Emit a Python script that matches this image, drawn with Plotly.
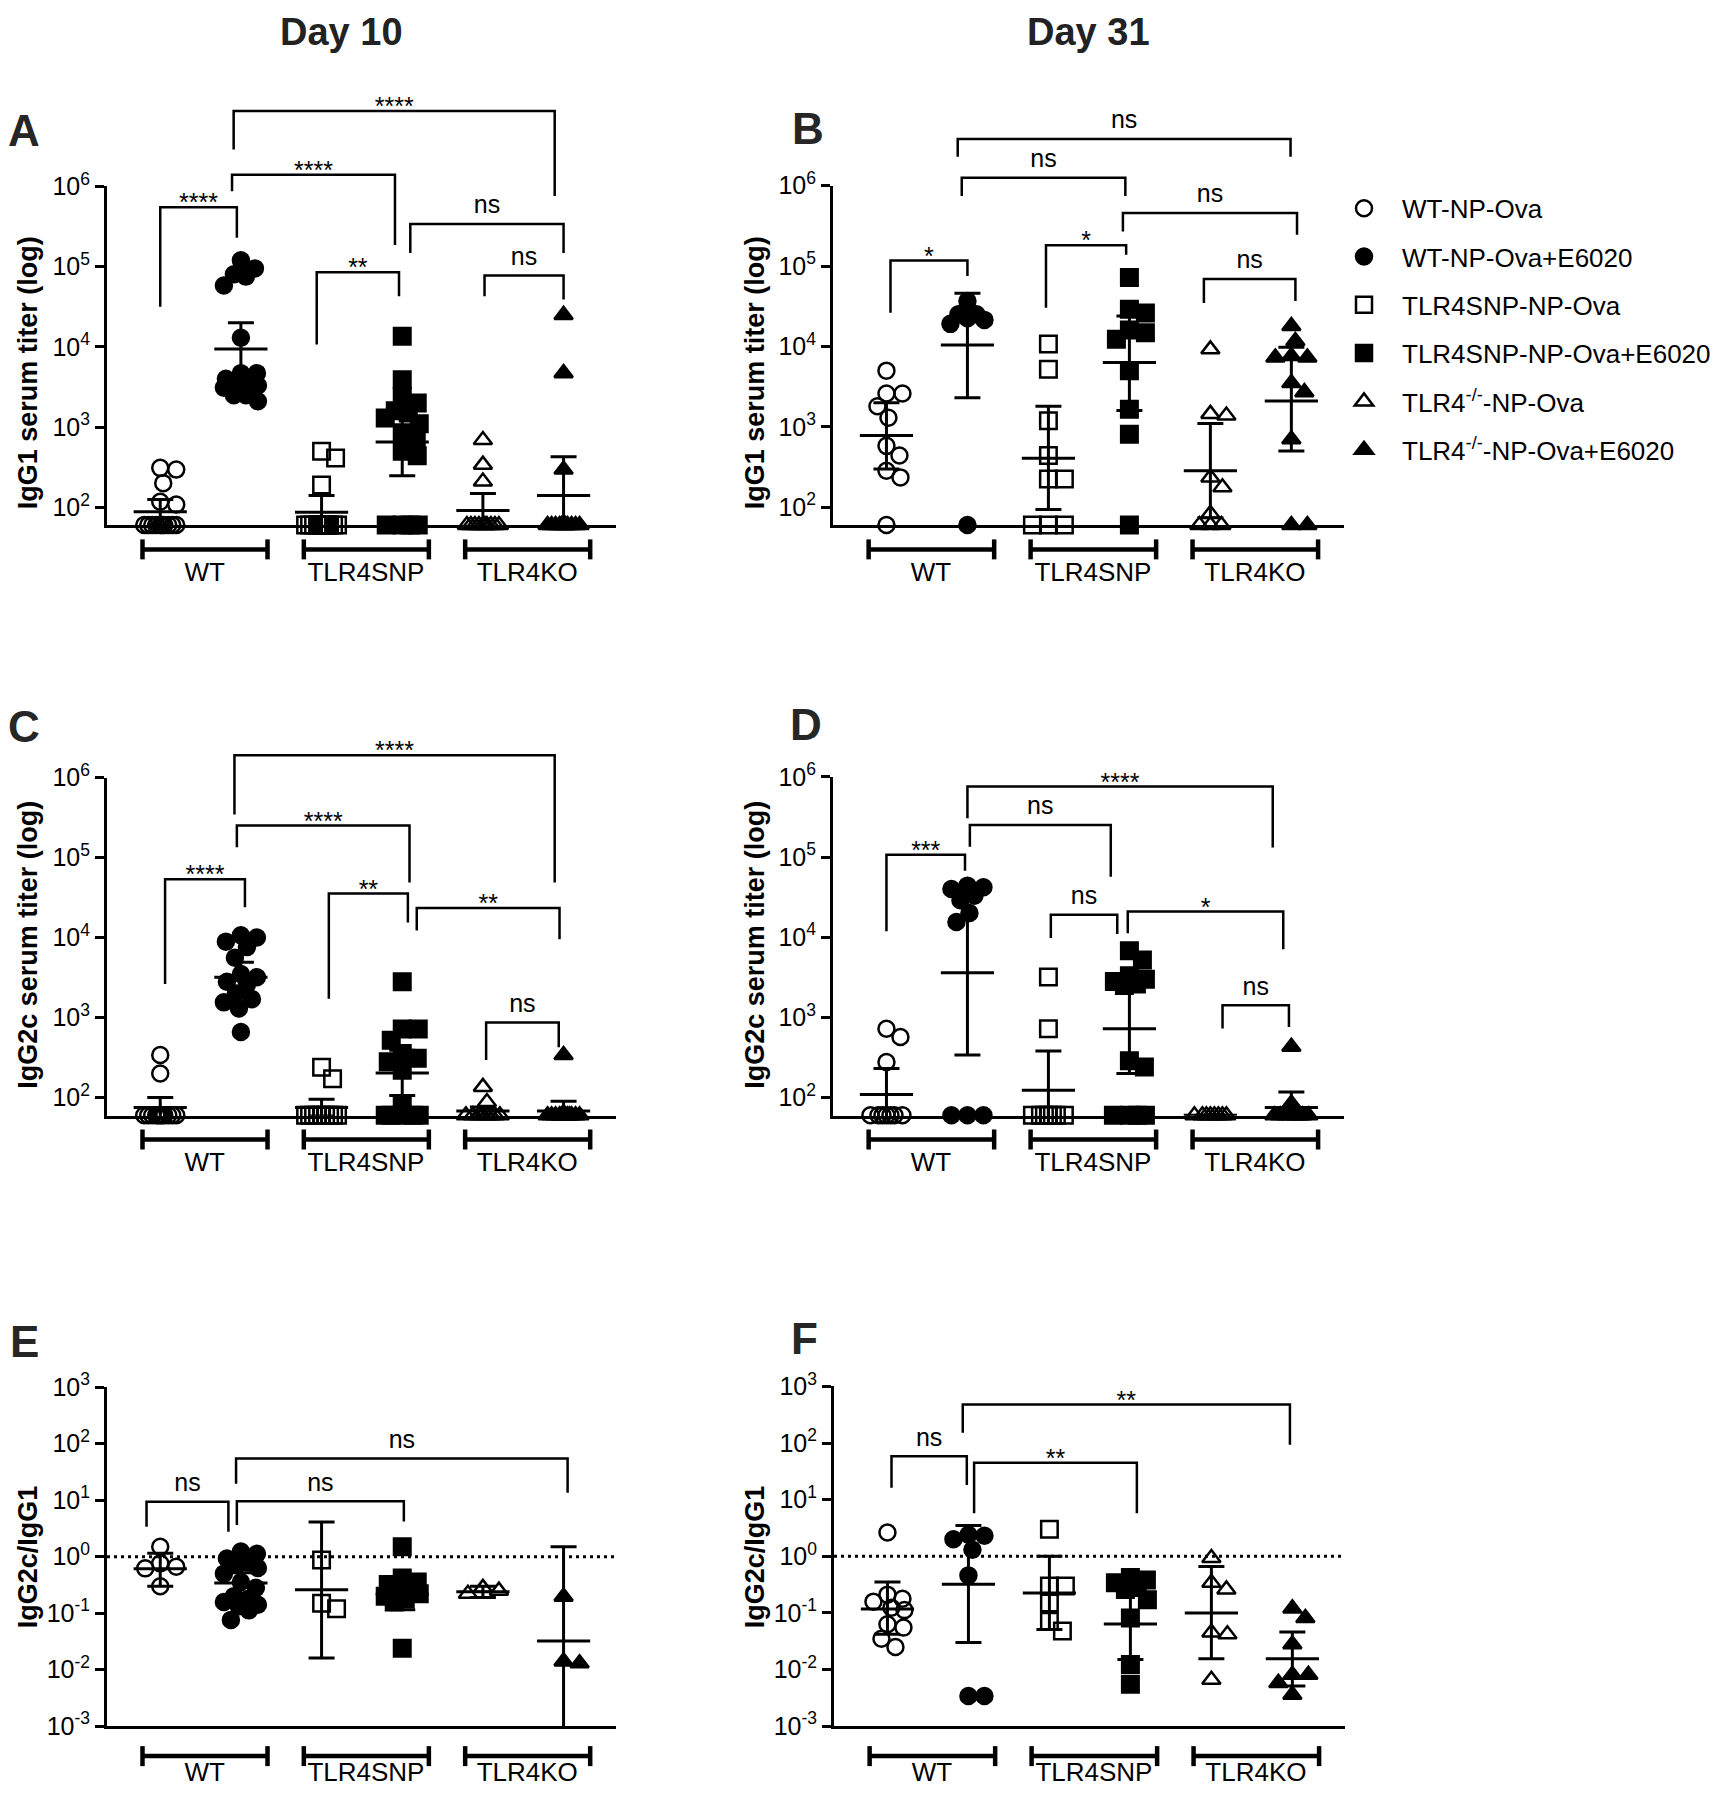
import math
import plotly.graph_objects as go

W, H = 1734, 1800
LOD = 60  # limit of detection (values plotted on the x axis)

categories = ["WT-NP-Ova", "WT-NP-Ova+E6020", "TLR4SNP-NP-Ova", "TLR4SNP-NP-Ova+E6020",
              "TLR4<sup>-/-</sup>-NP-Ova", "TLR4<sup>-/-</sup>-NP-Ova+E6020"]
group_labels = ["WT", "TLR4SNP", "TLR4KO"]
col_titles = ["Day 10", "Day 31"]

# ---------------- Panel A : IgG1, day 10 ----------------
a_wt = [310, 295, 200, 117, 108] + [60] * 10
a_wt_e = [120000, 95000, 80000, 75000, 58000, 13000, 4700, 4700, 4000, 3900, 3500, 3300, 3100, 2500, 2500, 2100]
a_snp = [500, 410, 190] + [60] * 12
a_snp_e = [13500, 3900, 2400, 2000, 1600, 1500, 1300, 1100, 850, 700, 500, 440, 60, 60, 60, 60]
a_ko = [690, 340, 210] + [60] * 10
a_ko_e = [25000, 4700, 295] + [60] * 11
a_mean = [88, 9400, 87, 650, 91, 140]
a_upper = [125, 20000, 140, 1700, 148, 425]
a_lower = [62, 4400, 54, 248, 56, 46]

# ---------------- Panel B : IgG1, day 31 ----------------
b_wt = [5000, 2600, 2600, 1800, 1300, 580, 440, 285, 235, 60]
b_wt_e = [36700, 25100, 25100, 22400, 21400, 19100, 60]
b_snp = [10700, 5200, 1190, 440, 225, 225, 60, 60, 60]
b_snp_e = [72000, 29000, 26000, 16000, 14800, 12300, 5000, 1660, 810, 60]
b_ko = [9200, 1450, 1380, 235, 177, 83, 60, 60, 60]
b_ko_e = [18000, 11700, 7600, 7300, 7300, 3500, 2700, 700, 60, 60]
b_mean = [780, 10400, 408, 6300, 285, 2100]
b_upper = [2000, 46000, 1800, 24000, 1100, 9800]
b_lower = [300, 2300, 94, 1600, 74, 500]

# ---------------- Panel C : IgG2c, day 10 ----------------
c_wt = [340, 200] + [60] * 11
c_wt_e = [10700, 10000, 8900, 7600, 5600, 3500, 3200, 2800, 2600, 2000, 1700, 1550, 1300, 660]
c_snp = [240, 172] + [60] * 9
c_snp_e = [2800, 720, 720, 520, 355, 310, 280, 220, 84] + [60] * 5
c_ko = [136, 88] + [60] * 8
c_ko_e = [340] + [60] * 12
c_mean = [75, 3200, 75, 203, 68, 68]
c_upper = [100, 4900, 95, 390, 76, 90]
c_lower = [56, 2100, 59, 106, 61, 51]

# ---------------- Panel D : IgG2c, day 31 ----------------
d_wt = [720, 570, 277] + [60] * 7
d_wt_e = [44000, 42000, 40000, 33000, 29000, 20000, 15500, 60, 60, 60]
d_snp = [3200, 720] + [60] * 7
d_snp_e = [6800, 5200, 3300, 3000, 2800, 2600, 2500, 287, 240] + [60] * 4
d_ko = [60] * 8
d_ko_e = [430, 84] + [60] * 8
d_mean = [109, 3600, 123, 720, 60, 75]
d_upper = [230, 38000, 380, 2600, 60, 117]
d_lower = [52, 340, 40, 200, 60, 48]

# ---------------- Panel E : IgG2c/IgG1, day 10 ----------------
e_wt = [1.5, 0.76, 0.66, 0.62, 0.30]
e_wt_e = [1.23, 1.12, 0.93, 0.79, 0.71, 0.63, 0.50, 0.355, 0.28, 0.20, 0.178, 0.158, 0.141, 0.132, 0.112, 0.076]
e_snp = [0.87, 0.15, 0.12]
e_snp_e = [1.5, 0.42, 0.355, 0.32, 0.28, 0.25, 0.22, 0.20, 0.178, 0.158, 0.024]
e_ko = [0.28, 0.25, 0.22]
e_ko_e = [0.196, 0.014, 0.013]
e_mean = [0.61, 0.34, 0.26, 0.216, 0.24, 0.032]
e_upper = [1.15, 0.52, 4.1, 0.39, 0.30, 1.5]
e_lower = [0.30, 0.22, 0.016, 0.115, 0.19, 0.0007]

# ---------------- Panel F : IgG2c/IgG1, day 31 ----------------
f_wt = [2.63, 0.21, 0.178, 0.158, 0.123, 0.112, 0.063, 0.055, 0.035, 0.025]
f_wt_e = [2.4, 2.3, 2.0, 1.3, 0.46, 0.0034, 0.0034]
f_snp = [3.0, 0.30, 0.30, 0.15, 0.071, 0.048]
f_snp_e = [0.42, 0.38, 0.34, 0.28, 0.26, 0.17, 0.081, 0.0123, 0.0055]
f_ko = [0.93, 0.34, 0.26, 0.045, 0.042, 0.0066]
f_ko_e = [0.12, 0.081, 0.028, 0.0081, 0.0081, 0.0058, 0.0036]
f_mean = [0.117, 0.32, 0.225, 0.064, 0.10, 0.0155]
f_upper = [0.35, 3.5, 1.0, 0.27, 0.66, 0.046]
f_lower = [0.042, 0.03, 0.051, 0.015, 0.0155, 0.0051]

# significance brackets: (left x, right x, top exponent, left-foot exponent, right-foot exponent, label)
a_brackets = [(0.0, 0.95, 5.74, 4.50, 5.36, "****"), (0.89, 2.91, 6.145, 5.94, 5.27, "****"),
              (0.91, 4.89, 6.94, 6.46, 5.88, "****"), (3.10, 5.0, 5.53, 5.17, 5.17, "ns"),
              (1.94, 2.96, 4.93, 4.03, 4.63, "**"), (4.02, 5.0, 4.89, 4.63, 4.59, "ns")]
b_brackets = [(0.05, 1.0, 5.07, 4.42, 4.875, "*"), (0.93, 2.95, 6.10, 5.87, 5.87, "ns"),
              (0.88, 4.99, 6.58, 6.36, 6.36, "ns"), (2.92, 5.07, 5.66, 5.43, 5.39, "ns"),
              (1.97, 2.96, 5.26, 4.48, 5.14, "*"), (3.92, 5.05, 4.84, 4.54, 4.565, "ns")]
c_brackets = [(0.06, 1.05, 4.73, 3.42, 4.38, "****"), (0.95, 3.09, 5.40, 5.13, 4.69, "****"),
              (0.92, 4.89, 6.28, 5.54, 4.69, "****"), (2.09, 3.07, 4.55, 3.235, 4.19, "**"),
              (3.18, 4.95, 4.37, 4.09, 3.98, "**"), (4.04, 4.94, 2.94, 2.47, 2.63, "ns")]
d_brackets = [(0.0, 0.97, 5.03, 4.075, 4.83, "***"), (1.03, 2.77, 5.40, 5.13, 4.755, "ns"),
              (1.0, 4.77, 5.88, 5.485, 5.12, "****"), (2.03, 2.85, 4.28, 3.99, 4.04, "ns"),
              (2.98, 4.9, 4.32, 4.05, 3.85, "*"), (4.15, 4.97, 3.15, 2.86, 2.88, "ns")]
e_brackets = [(-0.17, 0.845, 0.97, 0.53, 0.44, "ns"), (0.95, 3.02, 0.98, 0.56, 0.62, "ns"),
              (0.94, 5.05, 1.735, 1.29, 1.13, "ns")]
f_brackets = [(0.05, 0.98, 1.765, 1.21, 1.26, "ns"), (1.07, 3.08, 1.65, 0.76, 0.76, "**"),
              (0.93, 4.97, 2.68, 2.18, 1.97, "**")]

# ---------------- styling / geometry ----------------
FONT = "Liberation Sans, Arial, Helvetica, sans-serif"
symbols = ["circle-open", "circle", "square-open", "square", "triangle-up-open", "triangle-up"]
msizes = [16, 16, 16.5, 16.5, 16, 16]
XR = [-0.66, 5.65]
LLOD = math.log10(LOD) - 0.004   # axis starts a hair below the detection limit

# The photographed page shows the figure with a small vertical offset and squeeze;
# layout positions below are given in target-image pixels and mapped through Y().
SQ, OFF = 0.983, 16.5


def Y(py):
    return (py - OFF) / SQ


titer_ticks = [1e2, 1e3, 1e4, 1e5, 1e6]
ratio_ticks = [1e-3, 1e-2, 1e-1, 1e0, 1e1, 1e2, 1e3]


def tick_text(vals):
    return ["10<sup>%d</sup>" % round(math.log10(v)) for v in vals]


panels = [
    dict(letter="A", ytitle="IgG1 serum titer (log)", data=[a_wt, a_wt_e, a_snp, a_snp_e, a_ko, a_ko_e],
         mean=a_mean, up=a_upper, lo=a_lower, br=a_brackets, ticks=titer_ticks,
         x0=107, x1=616, ytop=185, ybot=524.3, lt=6, lb=LLOD, ratio=False, ty=372, lx=24, ly=129),
    dict(letter="B", ytitle="IgG1 serum titer (log)", data=[b_wt, b_wt_e, b_snp, b_snp_e, b_ko, b_ko_e],
         mean=b_mean, up=b_upper, lo=b_lower, br=b_brackets, ticks=titer_ticks,
         x0=833, x1=1344, ytop=184.3, ybot=524.3, lt=6, lb=LLOD, ratio=False, ty=372, lx=808, ly=127),
    dict(letter="C", ytitle="IgG2c serum titer (log)", data=[c_wt, c_wt_e, c_snp, c_snp_e, c_ko, c_ko_e],
         mean=c_mean, up=c_upper, lo=c_lower, br=c_brackets, ticks=titer_ticks,
         x0=107, x1=616, ytop=776.7, ybot=1115, lt=6, lb=LLOD, ratio=False, ty=944, lx=24, ly=726),
    dict(letter="D", ytitle="IgG2c serum titer (log)", data=[d_wt, d_wt_e, d_snp, d_snp_e, d_ko, d_ko_e],
         mean=d_mean, up=d_upper, lo=d_lower, br=d_brackets, ticks=titer_ticks,
         x0=833, x1=1344, ytop=776, ybot=1115, lt=6, lb=LLOD, ratio=False, ty=944, lx=806, ly=724),
    dict(letter="E", ytitle="IgG2c/IgG1", data=[e_wt, e_wt_e, e_snp, e_snp_e, e_ko, e_ko_e],
         mean=e_mean, up=e_upper, lo=e_lower, br=e_brackets, ticks=ratio_ticks,
         x0=107, x1=616, ytop=1386.7, ybot=1726, lt=3, lb=-3, ratio=True, ty=1557, lx=24, ly=1341),
    dict(letter="F", ytitle="IgG2c/IgG1", data=[f_wt, f_wt_e, f_snp, f_snp_e, f_ko, f_ko_e],
         mean=f_mean, up=f_upper, lo=f_lower, br=f_brackets, ticks=ratio_ticks,
         x0=834, x1=1345, ytop=1386, ybot=1726, lt=3, lb=-3, ratio=True, ty=1557, lx=804, ly=1338),
]


def swarm(values, unit_px, dec_px, diam=15.5, max_half=17.0):
    """Column-scatter offsets (in x-axis units) so overlapping points spread sideways."""
    order = sorted(range(len(values)), key=lambda i: -values[i])
    cands = [0.0]
    k = 1
    while k <= max_half:
        cands += [float(k), float(-k)]
        k += 1
    placed = []
    offs = [0.0] * len(values)
    for i in order:
        ypx = math.log10(values[i]) * dec_px
        chosen = None
        for dx in cands:
            if all((dx - px) ** 2 + (ypx - py) ** 2 >= diam ** 2 for px, py in placed):
                chosen = dx
                break
        if chosen is None:
            chosen = max(cands, key=lambda dx: min(math.hypot(dx - px, ypx - py) for px, py in placed))
        placed.append((chosen, ypx))
        offs[i] = chosen / unit_px
    return offs


fig = go.Figure()
axes = {}
annotations = []


def axname(prefix, k):
    return prefix + ("" if k == 1 else str(k))


# data traces first (panel A provides the legend)
for pi, P in enumerate(panels):
    k = pi + 1
    xa, ya = axname("x", k), axname("y", k)
    P["ytop_s"], P["ybot_s"] = Y(P["ytop"]), Y(P["ybot"])
    dec_px = (P["ybot_s"] - P["ytop_s"]) / (P["lt"] - P["lb"])     # layout pixels per decade
    unit_px = (P["x1"] - P["x0"]) / (XR[1] - XR[0])
    P["dec_px"], P["unit_px"] = dec_px, unit_px
    for c in range(6):
        vals = P["data"][c]
        offs = swarm(vals, unit_px, dec_px * SQ)
        fig.add_trace(go.Scatter(
            x=[c + o for o in offs], y=vals, mode="markers", name=categories[c],
            legendgroup=categories[c], showlegend=(pi == 0),
            marker=dict(symbol=symbols[c], size=msizes[c], color="black",
                        line=dict(color="black", width=2.5)),
            cliponaxis=False, xaxis=xa, yaxis=ya, hoverinfo="x+y"))
    # geometric mean with 95% CI
    fig.add_trace(go.Scatter(
        x=list(range(6)), y=P["mean"], mode="markers", showlegend=False,
        marker=dict(symbol="line-ew", size=38, color="black", line=dict(color="black", width=3)),
        error_y=dict(type="data", symmetric=False,
                     array=[u - m for u, m in zip(P["up"], P["mean"])],
                     arrayminus=[m - l for m, l in zip(P["mean"], P["lo"])],
                     color="black", thickness=3, width=13),
        cliponaxis=True, xaxis=xa, yaxis=ya, hoverinfo="skip"))
    if P["ratio"]:
        fig.add_trace(go.Scatter(x=XR, y=[1, 1], mode="lines", showlegend=False,
                                 line=dict(color="black", width=3, dash="3px,4px"),
                                 xaxis=xa, yaxis=ya, hoverinfo="skip"))

for pi, P in enumerate(panels):
    k = pi + 1
    ko = pi + 7
    xa, ya = axname("x", k), axname("y", k)
    xo, yo = "x%d" % ko, "y%d" % ko
    dec_px, unit_px = P["dec_px"], P["unit_px"]
    ytop_s, ybot_s = P["ytop_s"], P["ybot_s"]
    xdom = [P["x0"] / W, P["x1"] / W]
    axes[axname("xaxis", k)] = dict(domain=xdom, range=XR, anchor=ya, showline=True, linewidth=3,
                                   linecolor="black", ticks="", showticklabels=False, showgrid=False,
                                   zeroline=False, layer="below traces", fixedrange=True)
    axes[axname("yaxis", k)] = dict(domain=[1 - ybot_s / H, 1 - ytop_s / H], type="log",
                                   range=[P["lb"], P["lt"]], anchor=xa, showline=True, linewidth=3,
                                   linecolor="black", ticks="outside", ticklen=9, tickwidth=3,
                                   tickcolor="black", tickvals=P["ticks"], ticktext=tick_text(P["ticks"]),
                                   tickfont=dict(size=25, color="black"), showgrid=False, zeroline=False,
                                   layer="below traces", fixedrange=True)
    ext_top = max(ytop_s - 190, 0)
    ext_bot = min(ybot_s + 80, H)
    hi = P["lt"] + (ytop_s - ext_top) / dec_px
    lo = P["lb"] - (ext_bot - ybot_s) / dec_px
    axes["xaxis%d" % ko] = dict(domain=xdom, range=XR, anchor=yo, visible=False, fixedrange=True)
    axes["yaxis%d" % ko] = dict(domain=[1 - ext_bot / H, 1 - ext_top / H], type="log", range=[lo, hi],
                                anchor=xo, visible=False, fixedrange=True)

    def below(px, cap=None):
        ps = px / SQ
        if cap is not None:
            ps = min(ps, cap - ybot_s)
        return 10 ** (P["lb"] - ps / dec_px)

    # significance brackets
    bx, by, tx, ty, tt = [], [], [], [], []
    for (xl, xr, top, lf, rf, lab) in P["br"]:
        bx += [xl, xl, xr, xr, None]
        by += [10 ** lf, 10 ** top, 10 ** top, 10 ** rf, None]
        lift = (2 if "*" in lab else 17) / SQ
        tx.append((xl + xr) / 2)
        ty.append(10 ** (top + lift / dec_px))
        tt.append(lab)
    fig.add_trace(go.Scatter(x=bx, y=by, mode="lines", line=dict(color="black", width=2.5),
                             showlegend=False, xaxis=xo, yaxis=yo, hoverinfo="skip"))
    fig.add_trace(go.Scatter(x=tx, y=ty, mode="text", text=tt, textposition="middle center",
                             textfont=dict(size=25, color="black"), showlegend=False,
                             cliponaxis=False, xaxis=xo, yaxis=yo, hoverinfo="skip"))

    # group bars beneath the x axis
    off = 30 if P["ratio"] else 24
    loff = 52 if P["ratio"] else 49
    gx, gy, lx_, ly_ = [], [], [], []
    for g in range(3):
        a, b = 2 * g - 0.22, 2 * g + 1.33
        gx += [a, a, None, a, b, None, b, b, None]
        gy += [below(off - 10), below(off + 10), None, below(off), below(off), None,
               below(off - 10), below(off + 10), None]
        lx_.append(2 * g + 0.55)
        ly_.append(below(loff, cap=1788))
    fig.add_trace(go.Scatter(x=gx, y=gy, mode="lines", line=dict(color="black", width=4.5),
                             showlegend=False, xaxis=xo, yaxis=yo, hoverinfo="skip"))
    fig.add_trace(go.Scatter(x=lx_, y=ly_, mode="text", text=group_labels, textposition="middle center",
                             textfont=dict(size=26, color="black"), showlegend=False,
                             cliponaxis=False, xaxis=xo, yaxis=yo, hoverinfo="skip"))

    # panel letter and y-axis title
    annotations.append(dict(text="<b>%s</b>" % P["letter"], x=P["lx"] / W, y=1 - Y(P["ly"]) / H,
                            xref="paper", yref="paper", xanchor="center", yanchor="middle",
                            showarrow=False, font=dict(size=44, color="#262626")))
    tx_center = 28 if P["x0"] < 400 else 755
    annotations.append(dict(text="<b>%s</b>" % P["ytitle"], x=tx_center / W, y=1 - Y(P["ty"]) / H,
                            xref="paper", yref="paper", xanchor="center", yanchor="middle",
                            textangle=-90, showarrow=False, font=dict(size=27, color="black")))

for i, t in enumerate(col_titles):
    annotations.append(dict(text="<b>%s</b>" % t, x=(341 if i == 0 else 1088) / W,
                            y=1 - max(Y(23), 14) / H,
                            xref="paper", yref="paper", xanchor="center", yanchor="middle",
                            showarrow=False, font=dict(size=38, color="#222222")))

fig.update_layout(
    width=W, height=H, margin=dict(l=0, r=0, t=0, b=0),
    paper_bgcolor="white", plot_bgcolor="rgba(0,0,0,0)",
    font=dict(family=FONT, color="black"),
    showlegend=True,
    legend=dict(x=1326 / W, y=1 - (Y(208) - 25) / H, xanchor="left", yanchor="top",
                font=dict(size=26), tracegroupgap=11.5, itemwidth=66,
                bgcolor="rgba(0,0,0,0)", borderwidth=0),
    annotations=annotations,
    **axes,
)

fig.write_html("out.html", config={"displayModeBar": False},
               post_script="document.body.style.margin='0px';")
